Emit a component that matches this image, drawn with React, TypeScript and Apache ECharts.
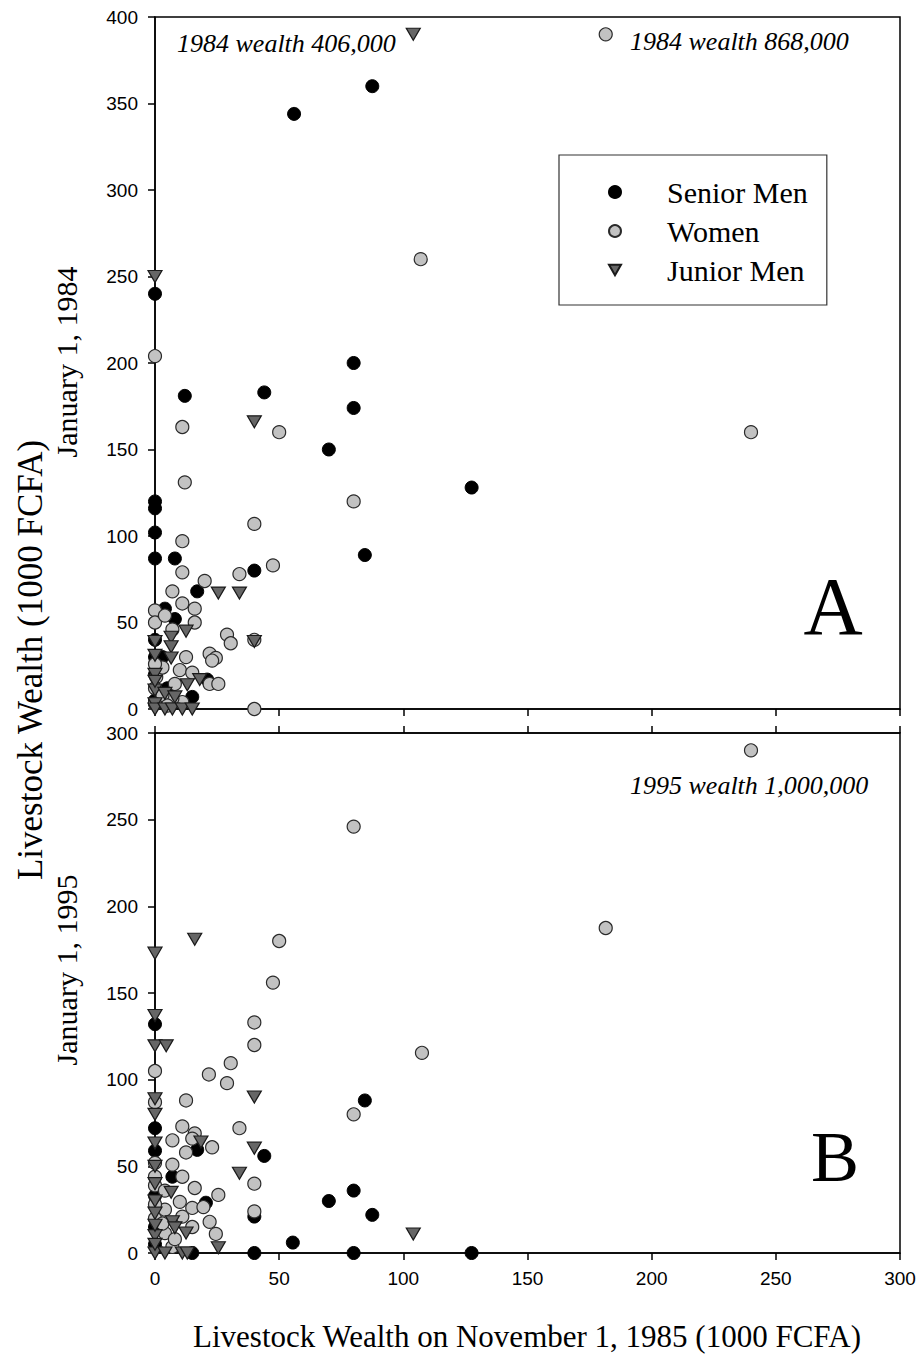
import React, { useEffect, useRef } from "react";
import * as echarts from "echarts";

// ---------- Data (x = Livestock wealth Nov 1, 1985; y = wealth Jan 1 of year), 1000 FCFA ----------
const xTicks = [0, 50, 100, 150, 200, 250, 300];

const seniorA: number[][] = [
  [87.5, 360], [56, 344], [0, 240], [12, 181], [44, 183], [80, 200], [80, 174], [70, 150],
  [127.5, 128], [84.5, 89], [0, 120], [0, 116], [0, 102], [0, 87], [8, 87], [40, 80],
  [17, 68], [4, 58], [8, 52], [21, 17], [15, 7], [0, 40], [0, 20], [0, 5], [3, 30], [0, 30], [5, 12],
];
const womenA: number[][] = [
  [240, 160], [107, 260], [80, 120], [50, 160], [11, 163], [12, 131], [0, 204], [11, 97],
  [40, 107], [47.5, 83], [34, 78], [20, 74], [11, 79], [7, 68], [11, 61], [16, 58], [0, 57],
  [0, 50], [4, 54], [7, 46], [16, 50], [29, 43], [30.5, 38], [22, 32], [24.5, 29.5], [23, 28],
  [12.5, 30], [10, 22.5], [15, 21], [0.5, 18.5], [3, 24], [0, 26], [8, 14.5], [22, 14.5],
  [25.5, 14.5], [11, 4], [40, 0], [7, 6], [40, 40], [0, 12], [3, 8], [0, 3], [5, 2], [181.5, 390],
];
const juniorA: number[][] = [
  [104, 390], [0, 250], [40, 166], [25.5, 67], [34, 67], [12.5, 45], [6.5, 41.5], [0, 39],
  [40, 39], [6.5, 36], [0, 31], [6.5, 29.5], [18, 17], [13, 14], [0, 11], [4, 9], [8, 7],
  [0, 3], [0, 0], [4, 0], [7, 0], [11, 0], [15, 0], [0, 20], [0, 16],
];

const seniorB: number[][] = [
  [0, 132], [0, 72], [84.5, 88], [44, 56], [17, 59.5], [0, 59], [7, 44], [20.5, 29], [40, 21],
  [55.5, 6], [40, 0], [15, 0], [0, 33], [70, 30], [80, 36], [87.5, 22], [80, 0], [127.5, 0],
  [0, 15], [0, 5],
];
const womenB: number[][] = [
  [240, 290], [80, 246], [181.5, 187.5], [50, 180], [47.5, 156], [40, 133], [40, 120],
  [107.5, 115.5], [30.5, 109.5], [21.7, 103], [29, 98], [0, 105], [80, 80], [12.5, 88], [0, 87],
  [34, 72], [11, 73], [16, 69], [15, 66], [7, 65], [12.5, 58], [23, 61], [7, 51], [11, 44],
  [16, 37.5], [25.5, 33.5], [10, 29.5], [15, 26], [19.5, 26.5], [0, 44], [0, 39], [4, 36],
  [40, 40], [40, 24], [22, 18], [24.5, 11], [15, 15], [11, 21], [4, 25], [7, 3.5], [4, 11.5],
  [0, 52], [0, 20], [0, 28], [3, 17], [8, 8],
];
const juniorB: number[][] = [
  [0, 173], [16, 181], [0, 137], [0, 119.5], [4.5, 119.5], [0, 89], [0, 80], [40, 90],
  [0, 63.5], [18.5, 64], [40, 60.5], [0, 50], [34, 46], [6.5, 35], [0, 30], [0, 23], [7, 18],
  [8, 14.5], [12.5, 11.5], [0, 10], [25.5, 3], [0, 0], [4, 0], [11, 0], [13, 0], [0, 5],
  [104, 11], [0, 40], [0, 16],
];

const seriesNames = ["Senior Men", "Women", "Junior Men"];
const annotations = ["1984 wealth 406,000", "1984 wealth 868,000", "1995 wealth 1,000,000"];

const SERIF = "'Liberation Serif', 'Times New Roman', serif";
const SANS = "'Liberation Sans', Arial, sans-serif";
const DOWN_TRIANGLE = "path://M0,0 L14,0 L7,12 Z";

export default function App() {
  const ref = useRef<HTMLDivElement>(null);

  useEffect(() => {
    if (!ref.current) return;
    const chart = echarts.init(ref.current, undefined, { renderer: "svg" });

    const axisLine = { show: true, lineStyle: { color: "#000", width: 1.5 } };
    const axisTick = { show: true, inside: false, length: 7, lineStyle: { color: "#000", width: 1.5 } };
    const label = { color: "#000", fontSize: 19, fontFamily: SANS };

    const styles = [
      { symbol: "circle", symbolSize: 13, itemStyle: { color: "#000", borderColor: "#000", borderWidth: 1, opacity: 1 } },
      { symbol: "circle", symbolSize: 13, itemStyle: { color: "#c2c2c2", borderColor: "#2a2a2a", borderWidth: 1.2, opacity: 1 } },
      { symbol: DOWN_TRIANGLE, symbolSize: [14, 12], itemStyle: { color: "#666666", borderColor: "#1a1a1a", borderWidth: 1.2, opacity: 1 } },
    ];
    const mk = (i: number, data: number[][], g: number) => ({
      type: "scatter",
      name: seriesNames[i],
      xAxisIndex: g,
      yAxisIndex: g,
      data,
      ...styles[i],
      z: 2 + i,
      emphasis: { disabled: true },
    });

    const annoStyle = { fontFamily: SERIF, fontStyle: "italic", fontSize: 26, fill: "#000", textVerticalAlign: "middle" };

    chart.setOption({
      animation: false,
      grid: [
        { left: 155, top: 17, width: 745, height: 692, show: true, borderColor: "#000", borderWidth: 1.5 },
        { left: 155, top: 733, width: 745, height: 520, show: true, borderColor: "#000", borderWidth: 1.5 },
      ],
      xAxis: [
        { type: "value", gridIndex: 0, min: 0, max: 300, interval: 50, position: "bottom", axisLine, axisTick, axisLabel: { show: false }, splitLine: { show: false } },
        { type: "value", gridIndex: 1, min: 0, max: 300, interval: 50, position: "bottom", axisLine, axisTick, axisLabel: { ...label, margin: 16, formatter: (v: number) => (xTicks.includes(v) ? String(v) : "") }, splitLine: { show: false } },
        { type: "value", gridIndex: 1, min: 0, max: 300, interval: 50, position: "top", axisLine, axisTick, axisLabel: { show: false }, splitLine: { show: false } },
      ],
      yAxis: [
        { type: "value", gridIndex: 0, min: 0, max: 400, interval: 50, axisLine, axisTick, axisLabel: { ...label, margin: 17 }, splitLine: { show: false } },
        { type: "value", gridIndex: 1, min: 0, max: 300, interval: 50, axisLine, axisTick, axisLabel: { ...label, margin: 17 }, splitLine: { show: false } },
      ],
      legend: {
        data: [
          { name: seriesNames[0] },
          { name: seriesNames[1] },
          { name: seriesNames[2], icon: DOWN_TRIANGLE },
        ],
        orient: "vertical",
        left: 559,
        top: 155,
        itemWidth: 12,
        itemHeight: 12,
        itemGap: 9,
        padding: [22, 19, 20, 49],
        borderColor: "#333",
        borderWidth: 1.2,
        selectedMode: false,
        textStyle: { fontFamily: SERIF, fontSize: 30, color: "#000", lineHeight: 30, padding: [0, 0, 0, 41] },
      },
      series: [
        mk(0, seniorA, 0), mk(1, womenA, 0), mk(2, juniorA, 0),
        mk(0, seniorB, 1), mk(1, womenB, 1), mk(2, juniorB, 1),
      ],
      graphic: [
        { type: "text", x: 177, y: 43, style: { ...annoStyle, text: annotations[0] } },
        { type: "text", x: 630, y: 41, style: { ...annoStyle, text: annotations[1] } },
        { type: "text", x: 630, y: 785, style: { ...annoStyle, text: annotations[2] } },
        { type: "text", x: 833, y: 606, style: { text: "A", fontFamily: SERIF, fontSize: 82, fill: "#000", textAlign: "center", textVerticalAlign: "middle" } },
        { type: "text", x: 835, y: 1157, style: { text: "B", fontFamily: SERIF, fontSize: 72, fill: "#000", textAlign: "center", textVerticalAlign: "middle" } },
        { type: "text", x: 30, y: 660, rotation: Math.PI / 2, style: { text: "Livestock Wealth (1000 FCFA)", fontFamily: SERIF, fontSize: 35, fill: "#000", textAlign: "center", textVerticalAlign: "middle" } },
        { type: "text", x: 66, y: 362, rotation: Math.PI / 2, style: { text: "January 1, 1984", fontFamily: SERIF, fontSize: 30, fill: "#000", textAlign: "center", textVerticalAlign: "middle" } },
        { type: "text", x: 66, y: 970, rotation: Math.PI / 2, style: { text: "January 1, 1995", fontFamily: SERIF, fontSize: 30, fill: "#000", textAlign: "center", textVerticalAlign: "middle" } },
        { type: "text", x: 527, y: 1336, style: { text: "Livestock Wealth on November 1, 1985 (1000 FCFA)", fontFamily: SERIF, fontSize: 31, fill: "#000", textAlign: "center", textVerticalAlign: "middle" } },
      ],
    });

    return () => chart.dispose();
  }, []);

  return <div ref={ref} style={{ position: "absolute", left: 0, top: 0, width: 921, height: 1354 }} />;
}
